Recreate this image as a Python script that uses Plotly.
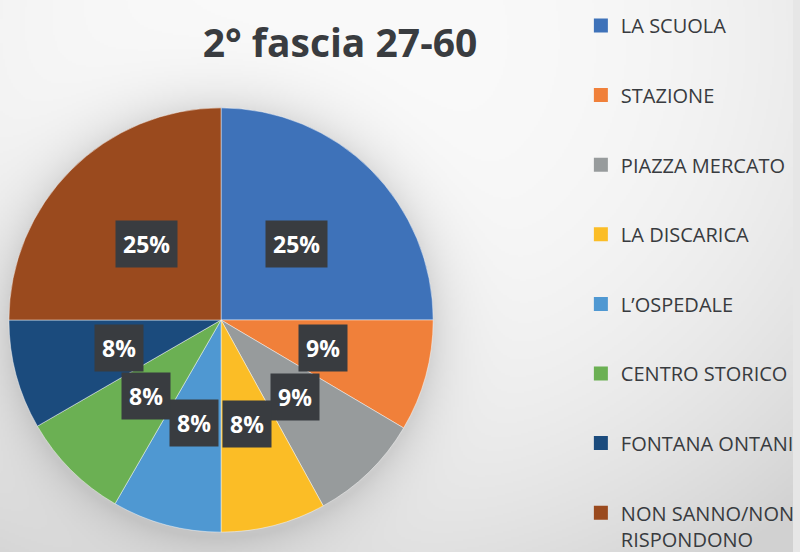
import base64
import struct
import zlib
import math
import numpy as np
import plotly.graph_objects as go

# ---------------- data ----------------
categories = ["LA SCUOLA", "STAZIONE", "PIAZZA MERCATO", "LA DISCARICA",
              "L’OSPEDALE", "CENTRO STORICO", "FONTANA ONTANI",
              "NON SANNO/NON<br>RISPONDONO"]
values = [25, 8.5, 8.5, 8, 8.33, 8.33, 8.34, 25]
pct_labels = ["25%", "9%", "9%", "8%", "8%", "8%", "8%", "25%"]
colors = ["#3e72b9", "#f0803a", "#979b9c", "#fbbd26",
          "#4f98d2", "#6bb053", "#1b4b7d", "#9a4a1e"]
title_text = "2° fascia 27-60"

# ---------------- geometry ----------------
W, H = 800, 572                    # figure a bit taller than the 552 px window (bottom is cropped)
CX, CYT, R = 223, 320, 214         # pie centre (px from left / top) and radius
CY = H - CYT                       # centre measured from bottom

# ---------------- background gradient image ----------------
def png_gray_uri(arr):
    h, w = arr.shape
    raw = b"".join(b"\x00" + arr[y].tobytes() for y in range(h))

    def chunk(t, d):
        c = struct.pack(">I", len(d)) + t + d
        return c + struct.pack(">I", zlib.crc32(t + d) & 0xffffffff)

    png = (b"\x89PNG\r\n\x1a\n"
           + chunk(b"IHDR", struct.pack(">IIBBBBB", w, h, 8, 0, 0, 0, 0))
           + chunk(b"IDAT", zlib.compress(raw, 9))
           + chunk(b"IEND", b""))
    return "data:image/png;base64," + base64.b64encode(png).decode()


s = 2
yy, xx = np.mgrid[0:H // s, 0:W // s].astype(float)
xx = xx * s + s / 2
yy = yy * s + s / 2
d0 = np.hypot((xx - 340) * 0.9, yy - 40)
bg = 250 - 35.8 * (d0 / 600) ** 2.66
bg = np.maximum(bg, 210)
dp = np.hypot(xx - CX, yy - CYT - 4) - R
shadow = np.where(dp > 0, 30 * np.exp(-np.clip(dp, 0, None) / 24), 30)
bg = bg - shadow
bg_img = np.clip(bg, 0, 255).astype(np.uint8)
bg_uri = png_gray_uri(bg_img)

# ---------------- figure ----------------
fig = go.Figure()

fig.add_trace(go.Pie(
    labels=categories,
    values=values,
    sort=False,
    direction="clockwise",
    rotation=0,
    marker=dict(colors=colors, line=dict(color="rgba(255,255,255,0.45)", width=1)),
    textinfo="none",
    hovertemplate="%{label}: %{value}<extra></extra>",
    showlegend=False,
    domain=dict(x=[(CX - R) / W, (CX + R) / W], y=[(CY - R) / H, (CY + R) / H]),
))

# legend entries (one group per category so they can be spaced like the original)
for cat, col in zip(categories, colors):
    fig.add_trace(go.Scatter(
        x=[None], y=[None], mode="markers",
        marker=dict(symbol="square", size=14, color=col),
        name=cat, legendgroup=cat, showlegend=True, hoverinfo="skip",
    ))

# data labels in dark boxes, placed at half radius on each slice's mid-angle
annotations = []
total = sum(values)
cum = 0.0
for v, lab in zip(values, pct_labels):
    mid = (cum + v / 2) / total * 2 * math.pi
    cum += v
    px = CX + 0.5 * R * math.sin(mid)
    py = CY + 0.5 * R * math.cos(mid)
    annotations.append(dict(
        text=lab, x=px / W, y=py / H, xref="paper", yref="paper",
        showarrow=False, borderpad=7, xanchor="center", yanchor="middle",
        font=dict(family="Open Sans", size=23, color="white", weight="bold"),
        bgcolor="#393c40"))

fig.update_layout(
    width=W, height=H,
    margin=dict(l=0, r=0, t=0, b=0),
    paper_bgcolor="#e6e6e6",
    plot_bgcolor="rgba(0,0,0,0)",
    xaxis=dict(visible=False),
    yaxis=dict(visible=False),
    title=dict(text=title_text, x=340 / W, xanchor="center",
               y=1 - 43 / H, yanchor="middle",
               font=dict(family="Open Sans", size=39, color="#393c40", weight="bold")),
    legend=dict(x=0.7325, y=1 - 6 / H, xanchor="left", yanchor="top",
                font=dict(family="Open Sans", size=20, color="#383b3f"),
                tracegroupgap=40.6, valign="top", bgcolor="rgba(0,0,0,0)",
                itemclick=False, itemdoubleclick=False),
    images=[dict(source=bg_uri, xref="paper", yref="paper", x=0, y=1,
                 sizex=1, sizey=1, sizing="stretch", layer="below")],
    annotations=annotations,
    showlegend=True,
)

fig.write_html("out.html",
               config={"displayModeBar": False},
               post_script="document.body.style.margin='0';document.body.style.overflow='hidden';")
